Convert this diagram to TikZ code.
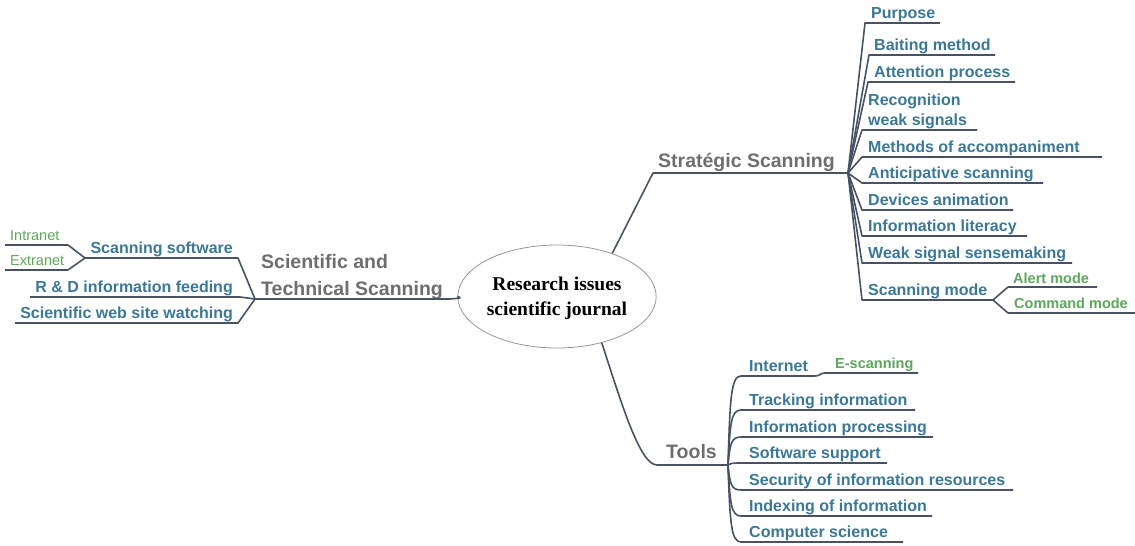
\documentclass[tikz,border=0pt]{standalone}
\usepackage{fontspec}
\setmainfont{Liberation Sans}
\newfontfamily\titlefont{Liberation Serif}
\usetikzlibrary{shapes.geometric}
\definecolor{linecol}{RGB}{72,82,100}
\definecolor{leafcol}{RGB}{59,120,150}
\definecolor{maincol}{RGB}{110,110,110}
\definecolor{subcol}{RGB}{93,167,93}
\definecolor{ellcol}{RGB}{150,150,150}
\tikzset{
  branch/.style={draw=linecol, line width=1.6pt, line join=round},
  leaf/.style={text=leafcol, font=\fontsize{16}{20}\selectfont\bfseries, inner sep=0pt, align=left},
  topic/.style={text=maincol, font=\fontsize{19.5}{27}\selectfont\bfseries, inner sep=0pt, align=left},
  sub/.style={text=subcol, font=\fontsize{14.5}{17}\selectfont\bfseries, inner sep=0pt},
  subthin/.style={text=subcol, font=\fontsize{14.5}{17}\selectfont, inner sep=0pt},
}
\begin{document}
\begin{tikzpicture}[x=1pt,y=-1pt]
\useasboundingbox (0,0) rectangle (1135,546);

% central topic
\node[ellipse, draw=ellcol, line width=0.8pt, minimum width=172pt, minimum height=103pt,
      inner sep=0pt, align=center, text depth=0pt,
      font=\titlefont\fontsize{19.5}{25}\selectfont\bfseries] (core) at (557,296.5)
      {Research issues\\scientific journal};

% ---------- Strategic scanning ----------
\node[topic, anchor=base west] (strat) at (658,167) {Stratégic Scanning};
\coordinate (stratA) at (653,173);
\coordinate (stratHub) at (848,173);
\draw[branch] (core.38) -- (stratA) -- (stratHub);

\foreach \n/\yu/\xs/\xt/\xe/\t in {
  pur/23/865/871/940/Purpose,
  bai/55/869/874/995/Baiting method,
  att/82/868/874/1015/Attention process,
  met/157/862/868/1102/Methods of accompaniment,
  ant/183/862/868/1043/Anticipative scanning,
  dev/210/862/868/1013/Devices animation,
  lit/236/862/868/1027/Information literacy,
  wss/263/862/868/1072/Weak signal sensemaking,
  mode/300/862/868/993/Scanning mode}{
  \coordinate (\n-a) at (\xs,\yu);
  \coordinate (\n-b) at (\xe,\yu);
  \node[leaf, anchor=base west] (\n) at (\xt,{\yu-5}) {\t};
  \draw[branch] (stratHub) -- (\n-a) -- (\n-b);
}
% two-line label: the base anchor sits on the last line
\node[leaf, anchor=base west] (rec) at (868,125) {Recognition\\weak signals};
\coordinate (rec-a) at (862,130);
\coordinate (rec-b) at (977,130);
\draw[branch] (stratHub) -- (rec-a) -- (rec-b);

% scanning modes
\node[sub, anchor=base west] (alert) at (1013,283) {Alert mode};
\node[sub, anchor=base west] (command) at (1014,308) {Command mode};
\coordinate (alert-a) at (1008,287);
\coordinate (alert-b) at (1097,287);
\coordinate (command-a) at (1008,313);
\coordinate (command-b) at (1135,313);
\draw[branch] (mode-b) -- (alert-a) -- (alert-b);
\draw[branch] (mode-b) -- (command-a) -- (command-b);

% ---------- Scientific and technical scanning ----------
\node[topic, anchor=base west] (sci) at (261,295) {Scientific and\\Technical Scanning};
\coordinate (sciHub) at (255,299);
\draw[branch] (core.west) .. controls (462,298) .. (450,299) -- (sciHub);

\node[leaf, anchor=base east] (scan) at (233,253) {Scanning software};
\node[leaf, anchor=base east] (rd) at (233,292) {R \& D information feeding};
\node[leaf, anchor=base east] (web) at (233,318) {Scientific web site watching};
\coordinate (scan-a) at (238,258);
\coordinate (scan-b) at (85,258);
\coordinate (rd-a) at (240,297);
\coordinate (rd-b) at (30,297);
\coordinate (web-a) at (238,323);
\coordinate (web-b) at (15,323);
\draw[branch] (sciHub) -- (scan-a) -- (scan-b);
\draw[branch] (sciHub) -- (rd-a) -- (rd-b);
\draw[branch] (sciHub) -- (web-a) -- (web-b);

\node[subthin, anchor=base west] (intra) at (10,240) {Intranet};
\node[subthin, anchor=base west] (extra) at (10,265) {Extranet};
\coordinate (intra-a) at (68,245);
\coordinate (intra-b) at (5,245);
\coordinate (extra-a) at (68,270);
\coordinate (extra-b) at (5,270);
\draw[branch] (scan-b) -- (intra-a) -- (intra-b);
\draw[branch] (scan-b) -- (extra-a) -- (extra-b);

% ---------- Tools ----------
\node[topic, anchor=base west] (tools) at (666,458) {Tools};
\coordinate (toolsA) at (657,465);
\coordinate (toolsHub) at (728,465);
\draw[branch] (core.-46) .. controls (622,405) and (640,465) .. (toolsA) -- (toolsHub);

\foreach \n/\yu/\xe/\t in {
  int/376/815/Internet,
  trk/410/915/Tracking information,
  prc/437/933/Information processing,
  sup/463/887/Software support,
  sec/490/1013/Security of information resources,
  idx/516/932/Indexing of information,
  cs/542/903/Computer science}{
  \coordinate (\n-a) at (741,\yu);
  \coordinate (\n-b) at (\xe,\yu);
  \node[leaf, anchor=base west] (\n) at (749,{\yu-5}) {\t};
  \draw[branch] (toolsHub) .. controls (730,{\yu+0.25*(465-\yu)}) and (731,\yu) .. (\n-a) -- (\n-b);
}
\node[sub, anchor=base west] (escan) at (835,368) {E-scanning};
\coordinate (escan-a) at (825,373);
\coordinate (escan-b) at (918,373);
\draw[branch] (int-b) .. controls (820,376) and (820,373) .. (escan-a) -- (escan-b);
\end{tikzpicture}
\end{document}
